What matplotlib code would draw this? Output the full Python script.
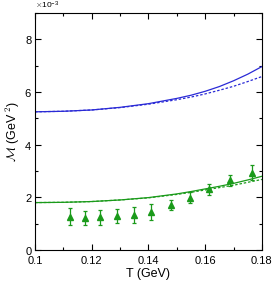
import matplotlib
matplotlib.use("Agg")
import matplotlib.pyplot as plt
from matplotlib.ticker import MultipleLocator

plt.rcParams['font.family'] = ['Liberation Sans', 'DejaVu Sans']
plt.rcParams['mathtext.fontset'] = 'cm'

# curves (T in GeV, values in 1e-3 GeV^2)
T_curve = [0.10, 0.11, 0.12, 0.13, 0.14, 0.15, 0.155, 0.16, 0.165, 0.17, 0.175, 0.18]
blue_solid = [5.25, 5.27, 5.32, 5.42, 5.56, 5.76, 5.88, 6.03, 6.21, 6.43, 6.68, 6.97]
blue_dashed = [5.25, 5.27, 5.32, 5.41, 5.54, 5.71, 5.81, 5.93, 6.07, 6.22, 6.40, 6.59]
green_solid = [1.80, 1.81, 1.84, 1.90, 1.99, 2.13, 2.22, 2.32, 2.42, 2.53, 2.66, 2.80]
green_dashed = [1.80, 1.81, 1.84, 1.90, 1.98, 2.11, 2.19, 2.28, 2.37, 2.46, 2.57, 2.68]

# data points
T_data = [0.1123, 0.1176, 0.1229, 0.1288, 0.1350, 0.1410, 0.1478, 0.1545, 0.1615, 0.1689, 0.1765]
M_data = [1.27, 1.22, 1.24, 1.28, 1.33, 1.45, 1.70, 1.99, 2.30, 2.64, 2.94]
M_err = [0.34, 0.26, 0.28, 0.26, 0.30, 0.30, 0.20, 0.22, 0.20, 0.20, 0.27]

blue = '#2a2ad6'
green = '#1a9a1a'

fig = plt.figure(figsize=(2.76, 2.92), dpi=100)
ax = fig.add_axes([0.127, 0.144, 0.822, 0.811])

ax.plot(T_curve, [v * 1e-3 for v in blue_solid], color=blue, lw=0.9)
ax.plot(T_curve, [v * 1e-3 for v in blue_dashed], color=blue, lw=0.9, ls=(0, (2, 1.5)))
ax.plot(T_curve, [v * 1e-3 for v in green_solid], color=green, lw=0.9)
ax.plot(T_curve, [v * 1e-3 for v in green_dashed], color=green, lw=0.9, ls=(0, (2, 1.5)))
ax.errorbar(T_data, [v * 1e-3 for v in M_data], yerr=[v * 1e-3 for v in M_err],
            fmt='^', color=green, ms=4, capsize=1.2, elinewidth=0.9, capthick=0.9)

ax.set_xlim(0.1, 0.18)
ax.set_ylim(0, 9e-3)
ax.xaxis.set_major_locator(MultipleLocator(0.02))
ax.xaxis.set_minor_locator(MultipleLocator(0.01))
ax.yaxis.set_major_locator(MultipleLocator(2e-3))
ax.yaxis.set_minor_locator(MultipleLocator(1e-3))
ax.set_xticks([0.1, 0.12, 0.14, 0.16, 0.18])
ax.set_xticklabels(['0.1', '0.12', '0.14', '0.16', '0.18'])
ax.ticklabel_format(axis='y', style='sci', scilimits=(-3, -3), useMathText=True)
ax.tick_params(which='both', direction='in', top=True, right=True, labelsize=8, width=0.8)
ax.tick_params(axis='x', pad=4)
ax.tick_params(axis='y', pad=2)
ax.tick_params(which='major', length=4)
ax.tick_params(which='minor', length=2.5)
ax.yaxis.get_offset_text().set_fontsize(6)
for s in ax.spines.values():
    s.set_linewidth(0.8)

ax.set_xlabel('T (GeV)', fontsize=9, labelpad=2)
ax.set_ylabel(r'$\mathcal{M}$ (GeV$^{\ 2}$)', fontsize=9, labelpad=2)

fig.savefig('out.png', dpi=100)
